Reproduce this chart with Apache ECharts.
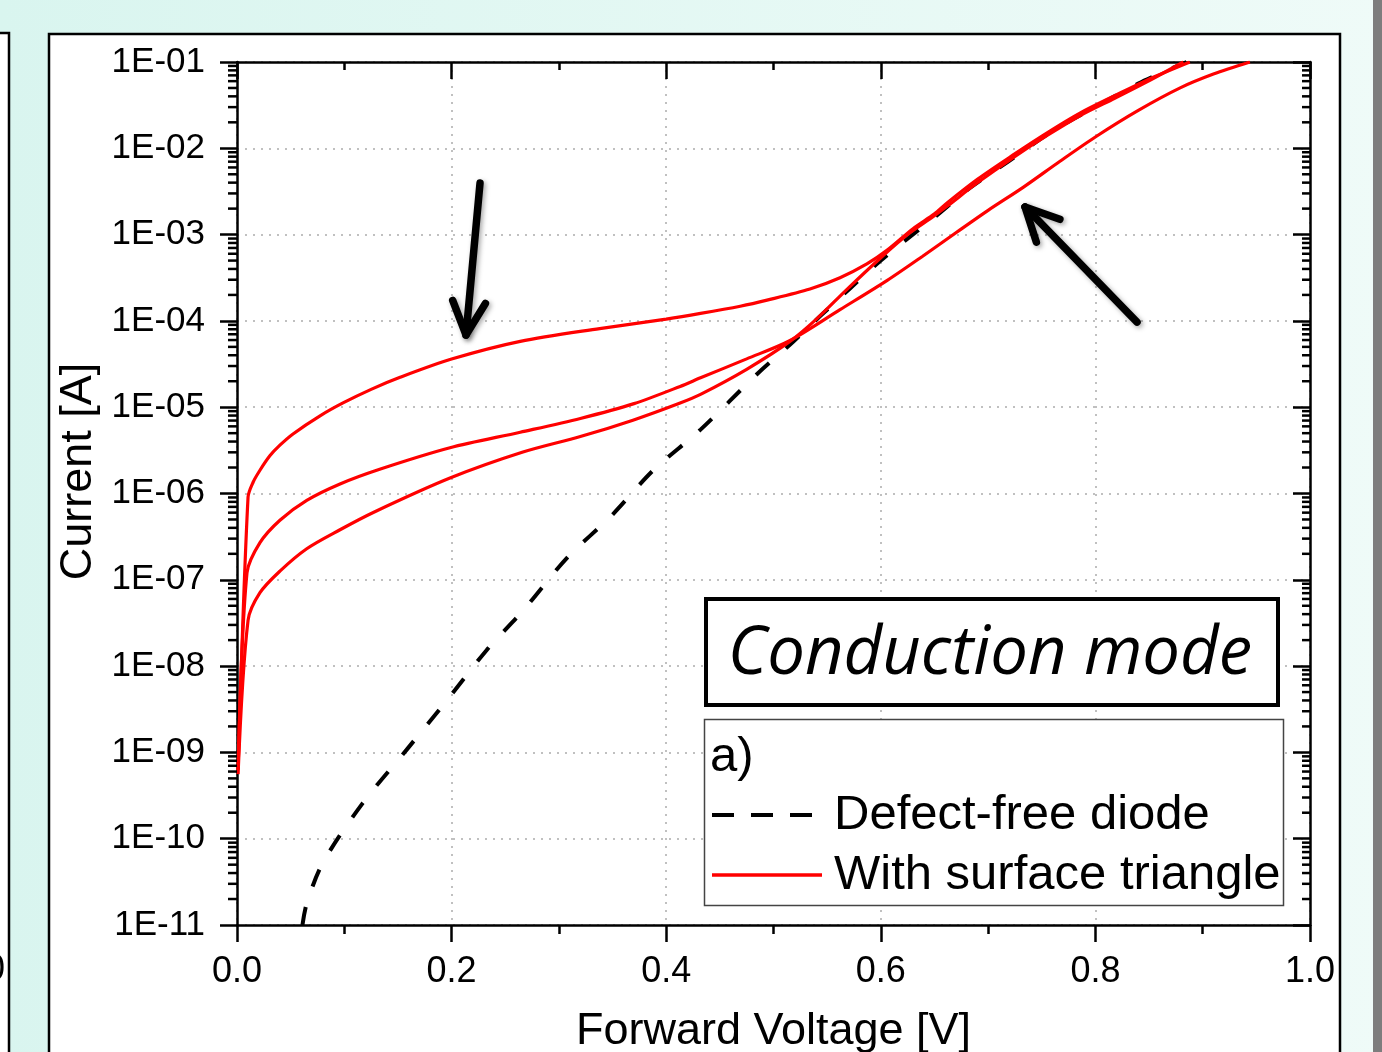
<!DOCTYPE html>
<html>
<head>
<meta charset="utf-8">
<title>Conduction mode</title>
<script src="https://cdn.jsdelivr.net/npm/echarts@6/dist/echarts.min.js"></script>
<style>
html, body { margin: 0; padding: 0; }
#chart { width: 1382px; height: 1052px; }
</style>
</head>
<body>
<div id="chart"></div>
<script>
// values: forward voltage [V] and current [A]
const defectFreeV = [0.061, 0.065, 0.080, 0.117, 0.158, 0.196, 0.233, 0.267, 0.308, 0.348, 0.388, 0.432,
  0.486, 0.515, 0.543, 0.600, 0.653, 0.683, 0.718, 0.760, 0.800, 0.840, 0.885]
const defectFreeI = [1.0e-11, 1.78e-11, 5.25e-11, 2.57e-10, 1.07e-9, 4.07e-9, 1.55e-8, 4.47e-8, 1.82e-7, 5.37e-7, 1.86e-6, 5.5e-6,
  2.51e-5, 5.25e-5, 1.12e-4, 5.0e-4, 1.70e-3, 3.47e-3, 6.92e-3, 1.58e-2, 3.02e-2, 5.62e-2, 0.1]

// triangle diode, upper branch
const upperV = [0.001, 0.0103, 0.015, 0.0214, 0.0308, 0.040, 0.0522, 0.0774, 0.0988, 0.125, 0.152, 0.200, 0.264, 0.338, 0.400, 0.432, 0.469,
  0.494, 0.534, 0.562, 0.587, 0.606, 0.630, 0.650, 0.662, 0.690, 0.723, 0.755, 0.786, 0.818, 0.848, 0.888]
const upperI = [6.3e-10, 9.1e-7, 1.35e-6, 1.86e-6, 2.75e-6, 3.63e-6, 4.90e-6, 7.94e-6, 1.12e-5, 1.61e-5, 2.22e-5, 3.61e-5, 5.79e-5, 8.15e-5, 1.05e-4, 1.22e-4, 1.48e-4,
  1.74e-4, 2.34e-4, 3.16e-4, 4.57e-4, 6.61e-4, 1.17e-3, 1.74e-3, 2.34e-3, 4.37e-3, 8.32e-3, 1.51e-2, 2.57e-2, 4.07e-2, 6.17e-2, 0.1]

// lower branch that turns steep after the crossing
const lowerV = [0.001, 0.0103, 0.0214, 0.040, 0.065, 0.096, 0.127, 0.1985, 0.2665, 0.320, 0.369, 0.413, 0.432, 0.475,
  0.515, 0.540, 0.568, 0.599, 0.625, 0.649, 0.662, 0.690, 0.723, 0.755, 0.786, 0.818, 0.848, 0.882]
const lowerI = [5.6e-10, 3.39e-8, 7.08e-8, 1.26e-7, 2.29e-7, 3.80e-7, 6.03e-7, 1.51e-6, 3.02e-6, 4.57e-6, 7.08e-6, 1.12e-5, 1.41e-5, 2.75e-5,
  5.75e-5, 1.05e-4, 2.29e-4, 5.25e-4, 1.0e-3, 1.62e-3, 2.14e-3, 3.98e-3, 7.76e-3, 1.41e-2, 2.40e-2, 3.80e-2, 5.89e-2, 0.1]

// middle branch that ends at the right
const middleV = [0.001, 0.0093, 0.0214, 0.040, 0.065, 0.096, 0.133, 0.1985, 0.264, 0.320, 0.370, 0.413, 0.432, 0.475,
  0.515, 0.562, 0.606, 0.639, 0.670, 0.700, 0.733, 0.767, 0.801, 0.840, 0.879, 0.910, 0.944]
const middleI = [6.3e-10, 1.20e-7, 2.69e-7, 4.90e-7, 8.32e-7, 1.29e-6, 1.91e-6, 3.39e-6, 5.13e-6, 7.41e-6, 1.10e-5, 1.74e-5, 2.19e-5, 3.63e-5,
  5.89e-5, 1.35e-4, 2.95e-4, 5.62e-4, 1.05e-3, 1.91e-3, 3.55e-3, 7.08e-3, 1.38e-2, 2.75e-2, 5.01e-2, 7.24e-2, 0.1]

// arrows: [tailV, tailI, headV, headI]
const arrows = [
  [0.2265, 3.96e-3, 0.2134, 6.87e-5],
  [0.8388, 9.7e-5, 0.7344, 2.09e-3]
]

const yTickLabels = ['1E-01', '1E-02', '1E-03', '1E-04', '1E-05', '1E-06', '1E-07', '1E-08', '1E-09', '1E-10', '1E-11']

const FONT = '"Liberation Sans", Arial, sans-serif'

// the y axis is drawn in decades (log10 of the current)
function toLog(xs, ys) {
  return xs.map((x, i) => [x, Math.log10(ys[i])])
}

// log minor ticks 2..9 in every decade
const minorTicks = []
for (let e = -11; e < -1; e++) {
  for (let k = 2; k <= 9; k++) {
    minorTicks.push([0, e + Math.log10(k)])
  }
}

function renderMinorTick(params, api) {
  const v = api.value(1)
  const l = api.coord([0, v])
  const r = api.coord([1, v])
  const style = { stroke: '#000', lineWidth: 2.5 }
  return {
    type: 'group',
    children: [
      { type: 'line', shape: { x1: l[0] - 9, y1: l[1], x2: l[0], y2: l[1] }, style },
      { type: 'line', shape: { x1: r[0] - 8, y1: r[1], x2: r[0], y2: r[1] }, style }
    ]
  }
}

function renderArrow(params, api) {
  const tail = api.coord([api.value(0), api.value(1)])
  const head = api.coord([api.value(2), api.value(3)])
  const ang = Math.atan2(tail[1] - head[1], tail[0] - head[0])
  const len = 37
  const spread = 0.46
  const p1 = [head[0] + len * Math.cos(ang + spread), head[1] + len * Math.sin(ang + spread)]
  const p2 = [head[0] + len * Math.cos(ang - spread), head[1] + len * Math.sin(ang - spread)]
  const style = {
    stroke: '#000', fill: null, lineWidth: 7.5, lineCap: 'round', lineJoin: 'round',
    shadowBlur: 5, shadowColor: 'rgba(0,0,0,0.35)', shadowOffsetX: 2, shadowOffsetY: 2
  }
  return {
    type: 'group',
    children: [
      { type: 'line', shape: { x1: tail[0], y1: tail[1], x2: head[0], y2: head[1] }, style },
      { type: 'polyline', shape: { points: [p1, head, p2] }, style }
    ]
  }
}

const axisLineStyle = { color: '#000', width: 2.5 }
const gridLineStyle = { color: '#c0c0c0', width: 2, type: [2, 6] }
const redLine = { color: '#ff0000', width: 3.2 }

const chart = echarts.init(document.getElementById('chart'))

const option = {
  animation: false,
  textStyle: { fontFamily: FONT },
  grid: { left: 237, right: 72, top: 62, bottom: 127, outerBoundsMode: 'none' },
  xAxis: [
    {
      type: 'value',
      min: 0,
      max: 1,
      interval: 0.2,
      position: 'bottom',
      axisLine: { onZero: false, lineStyle: axisLineStyle },
      axisTick: { inside: false, length: 17, lineStyle: axisLineStyle },
      minorTick: { show: true, splitNumber: 2, length: 9, lineStyle: axisLineStyle },
      axisLabel: { fontSize: 36, color: '#000', margin: 29, fontFamily: FONT, formatter: v => v.toFixed(1) },
      splitLine: { show: true, lineStyle: gridLineStyle },
      name: 'Forward Voltage [V]',
      nameLocation: 'middle',
      nameGap: 84,
      nameTextStyle: { fontSize: 45, color: '#000', fontFamily: FONT }
    },
    {
      type: 'value',
      min: 0,
      max: 1,
      interval: 0.2,
      position: 'top',
      axisLine: { onZero: false, lineStyle: axisLineStyle },
      axisTick: { inside: true, length: 17, lineStyle: axisLineStyle },
      minorTick: { show: true, splitNumber: 2, length: 8, lineStyle: axisLineStyle },
      axisLabel: { show: false },
      splitLine: { show: false }
    }
  ],
  yAxis: [
    {
      type: 'value',
      min: -11,
      max: -1,
      interval: 1,
      position: 'left',
      axisLine: { onZero: false, lineStyle: axisLineStyle },
      axisTick: { inside: false, length: 17, lineStyle: axisLineStyle },
      axisLabel: {
        fontSize: 35,
        color: '#000',
        margin: 32,
        fontFamily: FONT,
        hideOverlap: false,
        formatter: v => yTickLabels[-Math.round(v) - 1]
      },
      splitLine: { show: true, lineStyle: gridLineStyle },
      name: 'Current [A]',
      nameLocation: 'middle',
      nameGap: 127,
      nameTextStyle: { fontSize: 45, color: '#000', fontFamily: FONT, padding: [0, 0, 0, 44] }
    },
    {
      type: 'value',
      min: -11,
      max: -1,
      interval: 1,
      position: 'right',
      axisLine: { onZero: false, lineStyle: axisLineStyle },
      axisTick: { inside: true, length: 17, lineStyle: axisLineStyle },
      axisLabel: { show: false },
      splitLine: { show: false }
    }
  ],
  legend: {
    orient: 'vertical',
    left: 710,
    top: 790,
    padding: 0,
    itemGap: 10,
    itemWidth: 110,
    itemHeight: 20,
    selectedMode: false,
    z: 10,
    itemStyle: { color: 'rgba(0,0,0,0)', borderWidth: 0, opacity: 0 },
    textStyle: { fontSize: 49, lineHeight: 50, color: '#000', fontFamily: FONT, padding: [0, 0, 0, 7] },
    data: [
      { name: 'Defect-free diode', lineStyle: { type: [22, 17], width: 4 } },
      { name: 'With surface triangle', lineStyle: { width: 3.5, color: '#ff0000' } }
    ]
  },
  series: [
    {
      name: 'Defect-free diode',
      type: 'line',
      data: toLog(defectFreeV, defectFreeI),
      symbol: 'none',
      smooth: 0.3,
      lineStyle: { color: '#000', width: 4, type: [18, 22] },
      itemStyle: { color: '#000' },
      z: 2
    },
    {
      name: 'With surface triangle',
      type: 'line',
      data: toLog(upperV, upperI),
      symbol: 'none',
      smooth: 0.3,
      lineStyle: redLine,
      itemStyle: { color: '#ff0000' },
      z: 3
    },
    {
      name: 'With surface triangle',
      type: 'line',
      data: toLog(lowerV, lowerI),
      symbol: 'none',
      smooth: 0.3,
      lineStyle: redLine,
      itemStyle: { color: '#ff0000' },
      z: 3
    },
    {
      name: 'With surface triangle',
      type: 'line',
      data: toLog(middleV, middleI),
      symbol: 'none',
      smooth: 0.3,
      lineStyle: redLine,
      itemStyle: { color: '#ff0000' },
      z: 3
    },
    {
      name: 'minor ticks',
      type: 'custom',
      data: minorTicks,
      renderItem: renderMinorTick,
      silent: true,
      z: 4
    },
    {
      name: 'arrows',
      type: 'custom',
      data: arrows.map(a => [a[0], Math.log10(a[1]), a[2], Math.log10(a[3])]),
      renderItem: renderArrow,
      silent: true,
      z: 6
    }
  ],
  graphic: [
    {
      type: 'rect',
      z: -20,
      silent: true,
      shape: { x: 0, y: 0, width: 1382, height: 1052 },
      style: {
        fill: new echarts.graphic.LinearGradient(0, 0, 1, 0, [
          { offset: 0, color: '#d9f5ef' },
          { offset: 1, color: '#effbf8' }
        ])
      }
    },
    {
      type: 'rect',
      z: -19,
      silent: true,
      shape: { x: -20, y: 33, width: 29, height: 1100 },
      style: { fill: '#fff', stroke: '#000', lineWidth: 2.5 }
    },
    {
      type: 'text',
      z: -18,
      silent: true,
      x: 5,
      y: 970,
      style: { text: '0', fontSize: 36, fontFamily: FONT, fill: '#000', align: 'right', verticalAlign: 'middle' }
    },
    {
      type: 'rect',
      z: -19,
      silent: true,
      shape: { x: 49, y: 34, width: 1291, height: 1100 },
      style: { fill: '#fff', stroke: '#000', lineWidth: 2.5 }
    },
    {
      type: 'rect',
      z: -19,
      silent: true,
      shape: { x: 1373, y: 0, width: 9, height: 1052 },
      style: { fill: '#7d7d7d' }
    },
    {
      type: 'rect',
      z: 5,
      silent: true,
      shape: { x: 706, y: 599, width: 572, height: 106 },
      style: { fill: '#fff', stroke: '#000', lineWidth: 4 }
    },
    {
      type: 'text',
      z: 6,
      silent: true,
      x: 990,
      y: 655,
      style: {
        text: 'Conduction mode',
        fontSize: 67,
        fontStyle: 'italic',
        fontFamily: '"Open Sans", "Noto Sans", sans-serif',
        fill: '#000',
        align: 'center',
        verticalAlign: 'middle'
      }
    },
    {
      type: 'rect',
      z: 5,
      silent: true,
      shape: { x: 704.5, y: 719.5, width: 579, height: 186 },
      style: { fill: '#fff', stroke: '#444', lineWidth: 1.5 }
    },
    {
      type: 'text',
      z: 6,
      silent: true,
      x: 710,
      y: 757,
      style: { text: 'a)', fontSize: 49, fontFamily: FONT, fill: '#000', align: 'left', verticalAlign: 'middle' }
    }
  ]
}

chart.setOption(option)
</script>
</body>
</html>
